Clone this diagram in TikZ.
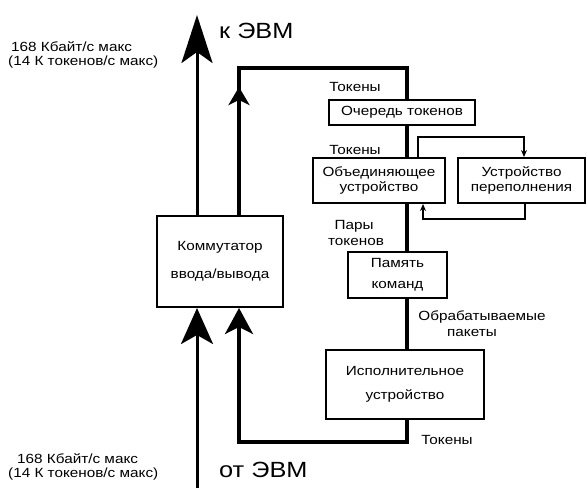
\documentclass[tikz,border=0pt]{standalone}
\usepackage{fontspec}
\setmainfont{Liberation Sans}[FakeStretch=1.15]
\usetikzlibrary{arrows.meta,decorations.markings}
\begin{document}
\begin{tikzpicture}[x=1pt,y=-1pt,
  box/.style={draw,line width=2pt,inner sep=0pt,align=center,font=\fontsize{13.3}{15}\selectfont},
  lbl/.style={inner sep=0pt,font=\fontsize{13.3}{15}\selectfont},
  big/.style={inner sep=0pt,font=\fontsize{22}{24}\selectfont},
  spine/.style={line width=3.5pt,line join=miter},
  feed/.style={line width=3pt},
  loopline/.style={line width=1.3pt,-{Stealth[length=7pt,width=6pt]}},
]
\useasboundingbox (0,0) rectangle (588,488);

% boxes
\node[box,minimum width=126pt,minimum height=91pt] (comm) at (220,261.5) {Коммутатор\\[13pt]ввода/вывода};
\node[box,minimum width=146pt,minimum height=25pt] (queue) at (402,112.5) {Очередь токенов};
\node[box,minimum width=132pt,minimum height=45pt] (merge) at (379,180.5) {Объединяющее\\устройство};
\node[box,minimum width=127pt,minimum height=45pt] (over) at (521.5,180.5) {Устройство\\переполнения};
\node[box,minimum width=99pt,minimum height=46pt] (mem) at (397.5,275) {Память\\[6pt]команд};
\node[box,minimum width=158pt,minimum height=69pt] (exec) at (405,384.5) {Исполнительное\\[9pt]устройство};

% coordinates
\coordinate (sx) at (407,0);
\coordinate (lx) at (239,0);
\coordinate (fx) at (197,0);
\coordinate (tl) at (239,68);
\coordinate (tr) at (407,68);
\coordinate (bl) at (239,442);
\coordinate (br) at (407,442);
\coordinate (top) at (197,15);
\coordinate (bot) at (197,488);
\coordinate (lt1) at (418,137);
\coordinate (lt2) at (524,137);
\coordinate (lb1) at (525,219);
\coordinate (lb2) at (423,219);

% left feed lines
\draw[feed,-{Stealth[length=36pt,width=32pt,inset=9pt]}] (bot) -- (comm.south -| fx);
\draw[feed,-{Stealth[length=48pt,width=31pt,inset=11pt]}] (comm.north -| fx) -- (top);

% spine
\draw[spine,postaction={decorate,decoration={markings,mark=at position 128pt with {\arrow{Stealth[length=18pt,width=21pt,inset=5pt]}}}}]
  (comm.north -| lx) -- (tl) -- (tr) -- (queue.north -| sx);
\draw[spine] (queue.south -| sx) -- (merge.north -| sx);
\draw[spine] (merge.south -| sx) -- (mem.north -| sx);
\draw[spine] (mem.south -| sx) -- (exec.north -| sx);
\draw[spine,-{Stealth[length=26pt,width=28pt,inset=7pt]}] (exec.south -| sx) -- (br) -- (bl) -- (comm.south -| lx);

% overflow loop
\draw[loopline] (merge.north -| lt1) -- (lt1) -- (lt2) -- (over.north -| lt2);
\draw[loopline] (over.south -| lb1) -- (lb1) -- (lb2) -- (merge.south -| lb2);

% labels
\node[big,anchor=west] (k) at (219,31) {к ЭВМ};
\node[big,anchor=west] (ot) at (219,470) {от ЭВМ};
\node[lbl,anchor=west] (r1) at (11,47) {168 Кбайт/с макс};
\node[lbl,anchor=west] (r2) at (8,62) {(14 К токенов/с макс)};
\node[lbl,anchor=west] (r3) at (17,459) {168 Кбайт/с макс};
\node[lbl,anchor=west] (r4) at (8,474) {(14 К токенов/с макс)};
\node[lbl] (t1) at (355,87) {Токены};
\node[lbl] (t2) at (355,150) {Токены};
\node[lbl] (p1) at (354,226) {Пары};
\node[lbl] (p2) at (356,242) {токенов};
\node[lbl] (o1) at (482,317) {Обрабатываемые};
\node[lbl] (o2) at (472,333) {пакеты};
\node[lbl] (t3) at (447,440) {Токены};
\end{tikzpicture}
\end{document}
